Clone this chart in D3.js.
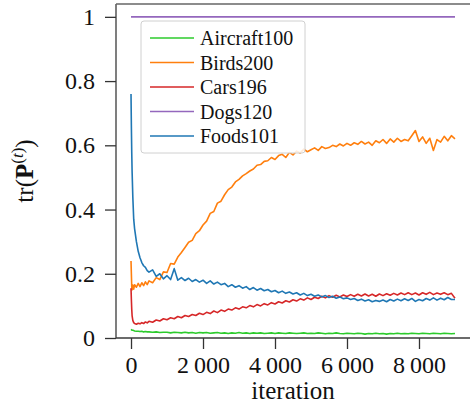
<!DOCTYPE html>
<html><head><meta charset="utf-8">
<script src="https://cdn.jsdelivr.net/npm/d3@7"></script>
<style>body{margin:0;background:#fff}svg{display:block}</style>
</head><body><svg id="c" width="470" height="407"></svg>
<script>
const iterations = [0,10,20,30,50,75,100,150,200,250,300,350,400,450,500,
600,700,800,900,1000,1100,1200,1300,1400,1500,1600,1700,1800,1900,2000,
2100,2200,2300,2400,2500,2600,2700,2800,2900,3000,3100,3200,3300,3400,3500,
3600,3700,3800,3900,4000,4100,4200,4300,4400,4500,4600,4700,4800,4900,5000,
5100,5200,5300,5400,5500,5600,5700,5800,5900,6000,6100,6200,6300,6400,6500,
6600,6700,6800,6900,7000,7100,7200,7300,7400,7500,7600,7700,7800,7900,8000,
8100,8200,8300,8400,8500,8600,8700,8800,8900,9000];

const aircraft100 = [0.027,0.026,0.025,0.024,0.024,0.023,0.022,0.021,0.021,0.020,0.021,0.019,0.020,0.019,0.019,
0.018,0.019,0.017,0.018,0.018,0.016,0.018,0.017,0.016,0.018,
0.016,0.017,0.015,0.017,0.016,0.017,0.015,0.016,0.017,0.015,
0.016,0.014,0.016,0.015,0.017,0.015,0.016,0.014,0.016,0.015,
0.016,0.014,0.015,0.016,0.014,0.016,0.015,0.014,0.016,0.015,
0.014,0.015,0.016,0.014,0.015,0.014,0.016,0.015,0.013,0.015,
0.014,0.016,0.014,0.013,0.015,0.014,0.013,0.015,0.014,0.012,
0.014,0.013,0.015,0.013,0.014,0.012,0.014,0.013,0.015,0.013,
0.014,0.013,0.015,0.014,0.013,0.015,0.014,0.013,0.015,0.014,
0.013,0.015,0.014,0.013,0.014];

const birds200 = [0.240,0.200,0.160,0.150,0.165,0.152,0.166,0.158,0.170,0.160,0.172,0.163,0.175,0.166,0.178,
0.172,0.188,0.182,0.206,0.204,0.232,0.230,0.252,0.266,0.282,
0.298,0.304,0.325,0.334,0.352,0.364,0.388,0.394,0.420,0.426,
0.446,0.462,0.470,0.486,0.494,0.505,0.512,0.520,0.526,0.538,
0.540,0.550,0.552,0.562,0.556,0.568,0.572,0.562,0.578,0.570,
0.582,0.576,0.588,0.580,0.586,0.592,0.584,0.596,0.590,0.593,
0.600,0.596,0.604,0.598,0.606,0.600,0.608,0.603,0.612,0.604,
0.610,0.600,0.614,0.608,0.618,0.606,0.620,0.610,0.622,0.612,
0.618,0.614,0.630,0.646,0.612,0.626,0.606,0.622,0.584,0.618,
0.610,0.628,0.614,0.630,0.620];

const cars196 = [0.155,0.120,0.090,0.070,0.055,0.048,0.045,0.043,0.046,0.044,0.048,0.045,0.050,0.047,0.052,
0.049,0.056,0.053,0.060,0.057,0.063,0.060,0.067,0.063,0.070,
0.067,0.073,0.070,0.077,0.073,0.080,0.076,0.084,0.079,0.087,
0.083,0.090,0.087,0.094,0.090,0.097,0.094,0.101,0.097,0.104,
0.100,0.107,0.103,0.110,0.106,0.113,0.109,0.116,0.112,0.119,
0.115,0.122,0.118,0.125,0.120,0.127,0.123,0.130,0.125,0.132,
0.127,0.133,0.128,0.134,0.129,0.135,0.130,0.136,0.131,0.137,
0.131,0.136,0.130,0.137,0.132,0.138,0.133,0.139,0.134,0.140,
0.135,0.141,0.135,0.140,0.134,0.141,0.136,0.142,0.135,0.140,
0.136,0.141,0.135,0.139,0.124];

const dogs120 = iterations.map(() => 1.0);

const foods101 = [0.760,0.660,0.580,0.520,0.440,0.370,0.340,0.300,0.270,0.250,0.235,0.225,0.220,0.210,0.205,
0.212,0.192,0.200,0.184,0.194,0.182,0.216,0.180,0.188,0.179,
0.186,0.176,0.182,0.174,0.180,0.170,0.178,0.168,0.174,0.166,
0.170,0.160,0.166,0.158,0.163,0.155,0.160,0.151,0.157,0.149,
0.154,0.147,0.151,0.144,0.148,0.141,0.146,0.139,0.143,0.137,
0.141,0.134,0.139,0.132,0.136,0.130,0.134,0.128,0.132,0.126,
0.130,0.124,0.128,0.122,0.125,0.120,0.123,0.117,0.121,0.115,
0.119,0.113,0.117,0.114,0.118,0.113,0.120,0.115,0.121,0.116,
0.122,0.117,0.123,0.114,0.120,0.116,0.123,0.118,0.125,0.118,
0.124,0.119,0.126,0.120,0.120];

const seriesNames = ["Aircraft100","Birds200","Cars196","Dogs120","Foods101"];
const seriesValues = [aircraft100, birds200, cars196, dogs120, foods101];
const seriesColors = ["#2ccb2c","#ff7f0e","#d62728","#9467bd","#1f77b4"];
const yTicks = [0,0.2,0.4,0.6,0.8,1];
const xTicks = [0,2000,4000,6000,8000];
const xTickLabels = ["0","2\u2009000","4\u2009000","6\u2009000","8\u2009000"];

const FONT = "'Liberation Serif', serif";
const L = 116, R = 470, T = 4, B = 338;
const svg = d3.select("#c");
const x = d3.scaleLinear().domain([-417, 9417]).range([L, R]);
const y = d3.scaleLinear().domain([0, 1.04]).range([B, T]);

svg.append("defs").append("clipPath").attr("id","clip")
  .append("rect").attr("x",L).attr("y",T).attr("width",R-L).attr("height",B-T);

const line = d3.line().x((d,i)=>x(iterations[i])).y(d=>y(d));
const g = svg.append("g").attr("clip-path","url(#clip)");
seriesValues.forEach((vals,k)=>{
  g.append("path").datum(vals).attr("d",line)
    .attr("fill","none").attr("stroke",seriesColors[k])
    .attr("stroke-width",1.6).attr("stroke-linejoin","round");
});

// axes
const yAxis = d3.axisLeft(y).tickValues(yTicks)
  .tickFormat(d => d===0 ? "0" : d===1 ? "1" : d3.format(".1f")(d))
  .tickSize(11).tickPadding(10);
const ya = svg.append("g").attr("transform",`translate(${L},0)`).call(yAxis);
const xAxis = d3.axisBottom(x).tickValues(xTicks)
  .tickFormat((d,i)=>xTickLabels[i]).tickSize(11).tickPadding(7);
const xa = svg.append("g").attr("transform",`translate(0,${B})`).call(xAxis);
[ya,xa].forEach(a=>{
  a.attr("font-family",null).attr("font-size",null);
  a.select(".domain").remove();
  a.selectAll(".tick line").attr("stroke","#333").attr("stroke-width",1.3);
  a.selectAll(".tick text").attr("fill","#111").style("font-family",FONT).style("font-size","24px");
});
// spines
const sp = svg.append("g").attr("stroke","#3a3a3a").attr("stroke-width",1.3);
sp.append("line").attr("x1",L).attr("x2",L).attr("y1",T).attr("y2",B);
sp.append("line").attr("x1",L).attr("x2",R).attr("y1",B).attr("y2",B);
sp.append("line").attr("x1",L).attr("x2",R).attr("y1",T).attr("y2",T).attr("stroke","#666");

// axis labels
svg.append("text").attr("x",(L+R)/2).attr("y",399).attr("text-anchor","middle")
  .style("font-family",FONT).style("font-size","25px").attr("fill","#111").text("iteration");
const yl = svg.append("text").attr("transform",`translate(33,${(T+B)/2}) rotate(-90)`)
  .attr("text-anchor","middle").style("font-family",FONT).style("font-size","25px").attr("fill","#111");
yl.append("tspan").text("tr(");
yl.append("tspan").attr("font-weight","bold").text("P");
yl.append("tspan").attr("dy",-10).style("font-size","17px").text("(");
yl.append("tspan").style("font-size","17px").attr("font-style","italic").text("t");
yl.append("tspan").style("font-size","17px").text(")");
yl.append("tspan").attr("dy",10).text(")");

// legend
const lg = svg.append("g");
lg.append("rect").attr("x",141).attr("y",21).attr("width",164).attr("height",132).attr("rx",3)
  .attr("fill","#fff").attr("fill-opacity",0.85).attr("stroke","#d0d0d0").attr("stroke-width",1);
seriesNames.forEach((n,k)=>{
  const cy = 38 + k*24.5;
  lg.append("line").attr("x1",150).attr("x2",194).attr("y1",cy).attr("y2",cy)
    .attr("stroke",seriesColors[k]).attr("stroke-width",1.5);
  lg.append("text").attr("x",200).attr("y",cy+7).style("font-family",FONT)
    .style("font-size","20px").attr("fill","#111").text(n);
});
</script></body></html>
